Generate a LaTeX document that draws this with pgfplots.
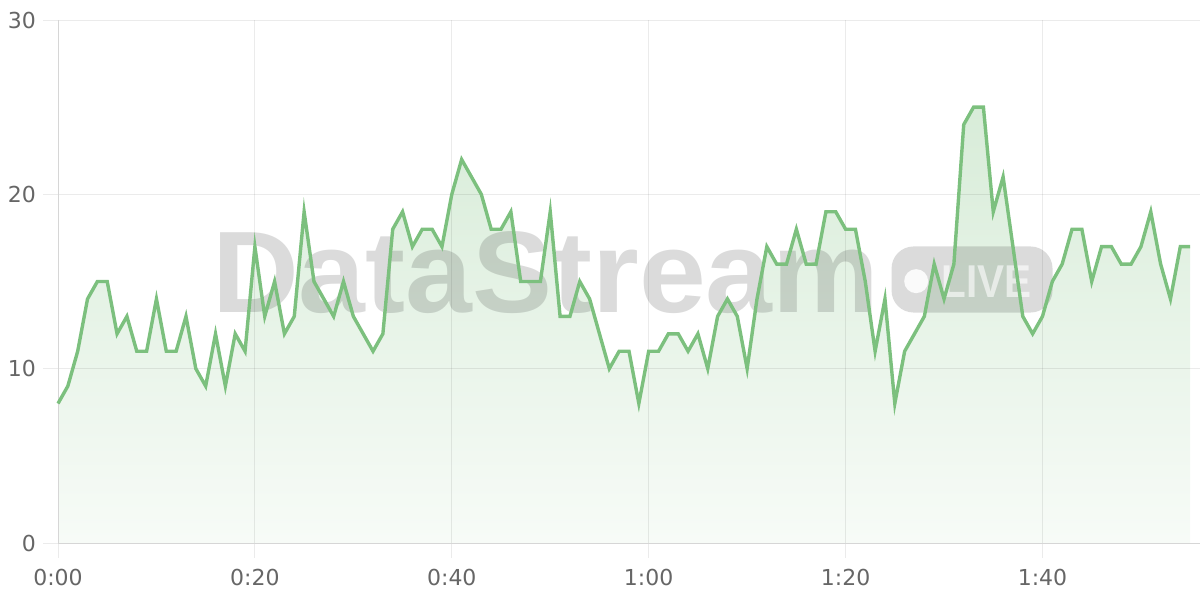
\documentclass[border=0pt]{standalone}
\usepackage{fontspec}
\setmainfont{DejaVu Sans}
\newfontfamily\wmfont{Liberation Sans}
\usepackage{pgfplots}
\usepackage{pgfplotstable}
\pgfplotsset{compat=1.18}

\definecolor{linegreen}{RGB}{124,192,126}
\definecolor{axisgray}{RGB}{214,214,214}
\definecolor{ticksgray}{RGB}{235,235,235}
\definecolor{labelgray}{RGB}{102,102,102}

% seconds vs. value
\pgfplotstableread{
t v
0 8
1 9
2 11
3 14
4 15
5 15
6 12
7 13
8 11
9 11
10 14
11 11
12 11
13 13
14 10
15 9
16 12
17 9
18 12
19 11
20 17
21 13
22 15
23 12
24 13
25 19
26 15
27 14
28 13
29 15
30 13
31 12
32 11
33 12
34 18
35 19
36 17
37 18
38 18
39 17
40 20
41 22
42 21
43 20
44 18
45 18
46 19
47 15
48 15
49 15
50 19
51 13
52 13
53 15
54 14
55 12
56 10
57 11
58 11
59 8
60 11
61 11
62 12
63 12
64 11
65 12
66 10
67 13
68 14
69 13
70 10
71 14
72 17
73 16
74 16
75 18
76 16
77 16
78 19
79 19
80 18
81 18
82 15
83 11
84 14
85 8
86 11
87 12
88 13
89 16
90 14
91 16
92 24
93 25
94 25
95 19
96 21
97 17
98 13
99 12
100 13
101 15
102 16
103 18
104 18
105 15
106 17
107 17
108 16
109 16
110 17
111 19
112 16
113 14
114 17
115 17
}\stream

\begin{document}
\begin{tikzpicture}
\begin{axis}[
    name=ax,
    set layers,
    scale only axis,
    width=571pt, height=261.5pt,
    xmin=0, xmax=116,
    ymin=0, ymax=30,
    axis lines=left,
    axis line style={-, draw=axisgray, line width=0.5pt},
    xtick={0,20,...,100},
    xticklabels={0:00,0:20,0:40,1:00,1:20,1:40},
    ytick={0,10,20,30},
    grid=major,
    major grid style={draw=black, draw opacity=0.08, line width=0.5pt},
    tick align=outside,
    major tick length=7.5pt,
    tick style={draw=ticksgray, line width=0.5pt},
    ticklabel style={font=\fontsize{11}{13}\selectfont, text=labelgray},
    xticklabel style={yshift=-2pt},
    /pgf/number format/assume math mode=true,
]
% area under the line, below the grid
\addplot[on layer=axis background, draw=none,
         top color=linegreen!30!white, bottom color=linegreen!6!white]
    table[x=t, y=v] {\stream} \closedcycle;

% watermark
\node[anchor=base west, inner sep=0pt, text=black, text opacity=0.14, xscale=1.035,
      font=\wmfont\bfseries\fontsize{58}{58}\selectfont]
    at (axis cs:15.63,13.22) {DataStream};
\fill[black, opacity=0.14, rounded corners=11pt]
    (axis cs:84.67,17.01) rectangle (axis cs:101.02,13.22);
\fill[white, opacity=0.85] (axis cs:87.17,15.02) circle[radius=6pt];
\node[anchor=base west, inner sep=0pt, text=white, text opacity=0.6, xscale=0.88,
      font=\wmfont\bfseries\fontsize{23}{23}\selectfont]
    at (axis cs:89.7,14.06) {LIVE};

% the line, above the watermark
\addplot[on layer=axis foreground, draw=linegreen, line width=1.7pt, mark=none]
    table[x=t, y=v] {\stream};
\end{axis}
\pgfresetboundingbox
\useasboundingbox ([xshift=-29pt,yshift=-28.5pt]ax.south west) rectangle ++(600pt,300pt);
\end{tikzpicture}
\end{document}
